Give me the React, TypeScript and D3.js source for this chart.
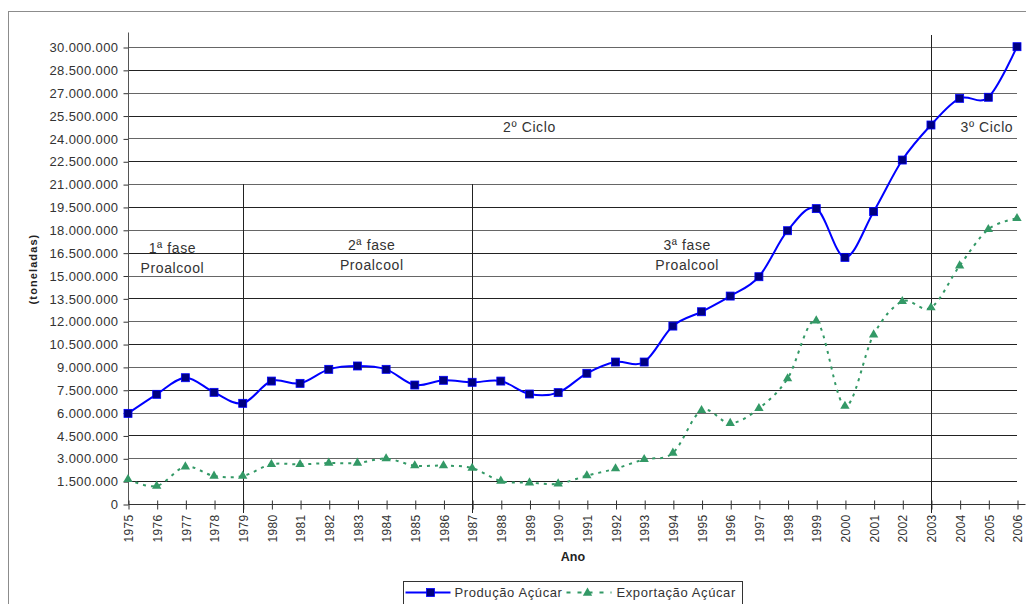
import { useEffect, useRef } from 'react'
import * as d3 from 'd3'

const years = d3.range(1975, 2007)

const producao = [
  5950000, 7200000, 8290000, 7330000, 6610000, 8070000, 7920000, 8840000,
  9060000, 8840000, 7810000, 8120000, 7990000, 8070000, 7220000, 7310000,
  8580000, 9320000, 9320000, 11680000, 12620000, 13650000, 14920000, 17940000,
  19390000, 16190000, 19190000, 22580000, 24880000, 26630000, 26700000, 30020000,
]

const exportacao = [
  1620000, 1180000, 2450000, 1840000, 1840000, 2600000, 2600000, 2690000,
  2690000, 2980000, 2520000, 2520000, 2360000, 1510000, 1400000, 1330000,
  1860000, 2320000, 2930000, 3350000, 6150000, 5300000, 6280000, 8230000,
  12030000, 6430000, 11110000, 13300000, 12890000, 15640000, 18030000, 18750000,
]

const yTicks = d3.range(0, 30000001, 1500000)

const phaseLines = [
  { year: 1979, top: 21000000 },
  { year: 1987, top: 21000000 },
  { year: 2003, top: null },
]

const annotations = [
  { year: 1976.55, value: 16500000, lines: ['1ª fase', 'Proalcool'] },
  { year: 1983.5, value: 16700000, lines: ['2ª fase', 'Proalcool'] },
  { year: 1994.5, value: 16700000, lines: ['3ª fase', 'Proalcool'] },
  { year: 1989.0, value: 24420000, lines: ['2º Ciclo'] },
  { year: 2004.95, value: 24420000, lines: ['3º Ciclo'] },
]

const fmt = (v: number) => (v === 0 ? '0' : d3.format(',')(v).replace(/,/g, '.'))

export default function App() {
  const svgRef = useRef<SVGSVGElement>(null)
  const width = 1026
  const height = 604

  useEffect(() => {
    if (!svgRef.current) return
    const svg = d3.select(svgRef.current)
    svg.selectAll('*').remove()

    const font = '"Liberation Sans", Arial, sans-serif'
    const left = 128
    const right = 1017
    const top = 47
    const bottom = 504

    const x = d3.scaleLinear().domain([1975, 2006]).range([left, right])
    const y = d3.scaleLinear().domain([0, 30000000]).range([bottom, top])

    svg.append('rect').attr('width', width).attr('height', height).attr('fill', '#fff')

    // outer frame
    svg.append('rect')
      .attr('x', 8.5).attr('y', 11.5)
      .attr('width', 1040).attr('height', 620)
      .attr('fill', 'none').attr('stroke', '#8c8c8c')

    const g = svg.append('g')

    // grid
    g.append('g')
      .selectAll('line')
      .data(yTicks.filter((t) => t > 0))
      .enter()
      .append('line')
      .attr('x1', left).attr('x2', right)
      .attr('y1', (d) => Math.round(y(d)) + 0.5)
      .attr('y2', (d) => Math.round(y(d)) + 0.5)
      .attr('stroke', (_, i) => (i % 2 ? '#666' : '#222'))
      .attr('stroke-width', 1)

    // y axis
    const yAxis = g.append('g')
      .attr('transform', `translate(${left + 0.5},0.5)`)
      .call(d3.axisLeft(y).tickValues(yTicks).tickSize(5).tickPadding(5).tickFormat((d) => fmt(+d)))
    yAxis.select('.domain').remove()
    yAxis.append('line')
      .attr('x1', 0).attr('x2', 0)
      .attr('y1', 32).attr('y2', bottom)
      .attr('stroke', '#555')
    yAxis.selectAll('.tick line').attr('stroke', '#333')
    yAxis.selectAll('text')
      .attr('fill', '#333')
      .attr('font-size', '13px')
      .attr('letter-spacing', '0.4px')
      .attr('font-family', font)

    // x axis
    const xAxis = g.append('g')
      .attr('transform', `translate(0.5,${bottom + 0.5})`)
      .call(d3.axisBottom(x).tickValues(years).tickSize(5).tickFormat((d) => String(d)))
    xAxis.select('.domain').attr('stroke', '#333').attr('d', `M${left},0H${right + 8}`)
    xAxis.selectAll('.tick line').attr('stroke', '#333').attr('y1', -4)
    xAxis.selectAll('text')
      .attr('fill', '#333')
      .attr('font-size', '12px')
      .attr('letter-spacing', '0.3px')
      .attr('font-family', font)
      .attr('transform', 'rotate(-90)')
      .attr('text-anchor', 'end')
      .attr('x', -10)
      .attr('y', 0)
      .attr('dy', '0.35em')

    // phase lines
    g.append('g')
      .selectAll('line')
      .data(phaseLines)
      .enter()
      .append('line')
      .attr('x1', (d) => Math.round(x(d.year)) + 0.5)
      .attr('x2', (d) => Math.round(x(d.year)) + 0.5)
      .attr('y1', (d) => (d.top === null ? 35 : y(d.top)))
      .attr('y2', bottom + 9)
      .attr('stroke', '#222')

    // annotations
    annotations.forEach((a) => {
      const t = g.append('text')
        .attr('x', x(a.year))
        .attr('y', y(a.value))
        .attr('text-anchor', 'middle')
        .attr('fill', '#333')
        .attr('font-size', '14px')
        .attr('letter-spacing', '0.6px')
        .attr('font-family', font)
      a.lines.forEach((l, i) => {
        t.append('tspan').attr('x', x(a.year)).attr('dy', i === 0 ? 0 : 20).text(l)
      })
    })

    // series
    const line = d3.line<number>()
      .x((_, i) => x(years[i]))
      .y((d) => y(d))
      .curve(d3.curveCatmullRom.alpha(0))

    g.append('path')
      .datum(exportacao)
      .attr('d', line)
      .attr('fill', 'none')
      .attr('stroke', '#339966')
      .attr('stroke-width', 2)
      .attr('stroke-dasharray', '3,5')

    g.append('path')
      .datum(producao)
      .attr('d', line)
      .attr('fill', 'none')
      .attr('stroke', '#0000ff')
      .attr('stroke-width', 2)

    const tri = d3.symbol().type(d3.symbolTriangle).size(38)
    g.append('g')
      .selectAll('path')
      .data(exportacao)
      .enter()
      .append('path')
      .attr('d', tri)
      .attr('transform', (d, i) => `translate(${x(years[i])},${y(d)})`)
      .attr('fill', '#339966')

    g.append('g')
      .selectAll('rect')
      .data(producao)
      .enter()
      .append('rect')
      .attr('x', (_, i) => x(years[i]) - 4)
      .attr('y', (d) => y(d) - 4)
      .attr('width', 8)
      .attr('height', 8)
      .attr('fill', '#000080')
      .attr('stroke', '#0000ff')
      .attr('stroke-width', 0.8)

    // axis titles
    svg.append('text')
      .attr('x', 573).attr('y', 561)
      .attr('text-anchor', 'middle')
      .attr('font-size', '12.5px')
      .attr('font-weight', 'bold')
      .attr('font-family', font)
      .attr('fill', '#222')
      .text('Ano')

    svg.append('text')
      .attr('transform', 'translate(37,269) rotate(-90)')
      .attr('text-anchor', 'middle')
      .attr('font-size', '11px')
      .attr('letter-spacing', '1.1px')
      .attr('font-weight', 'bold')
      .attr('font-family', font)
      .attr('fill', '#222')
      .text('(toneladas)')

    // legend
    const lg = svg.append('g').attr('transform', 'translate(403.5,581.5)')
    lg.append('rect')
      .attr('width', 339).attr('height', 30)
      .attr('fill', '#fff').attr('stroke', '#333')
    lg.append('line').attr('x1', 2).attr('x2', 47).attr('y1', 11).attr('y2', 11)
      .attr('stroke', '#0000ff').attr('stroke-width', 2)
    lg.append('rect').attr('x', 23).attr('y', 7).attr('width', 8).attr('height', 8)
      .attr('fill', '#000080').attr('stroke', '#0000ff').attr('stroke-width', 0.8)
    lg.append('text').attr('x', 51).attr('y', 15.5)
      .attr('font-size', '13px').attr('letter-spacing', '0.6px')
      .attr('font-family', font).attr('fill', '#333')
      .text('Produção Açúcar')
    lg.append('line').attr('x1', 163).attr('x2', 208).attr('y1', 11).attr('y2', 11)
      .attr('stroke', '#339966').attr('stroke-width', 2).attr('stroke-dasharray', '4,7')
    lg.append('path').attr('d', tri).attr('transform', 'translate(184,11.5)').attr('fill', '#339966')
    lg.append('text').attr('x', 213).attr('y', 15.5)
      .attr('font-size', '13px').attr('letter-spacing', '0.6px')
      .attr('font-family', font).attr('fill', '#333')
      .text('Exportação Açúcar')
  }, [])

  return (
    <svg
      ref={svgRef}
      width={width}
      height={height}
      style={{ position: 'absolute', left: 0, top: 0, display: 'block' }}
    />
  )
}
